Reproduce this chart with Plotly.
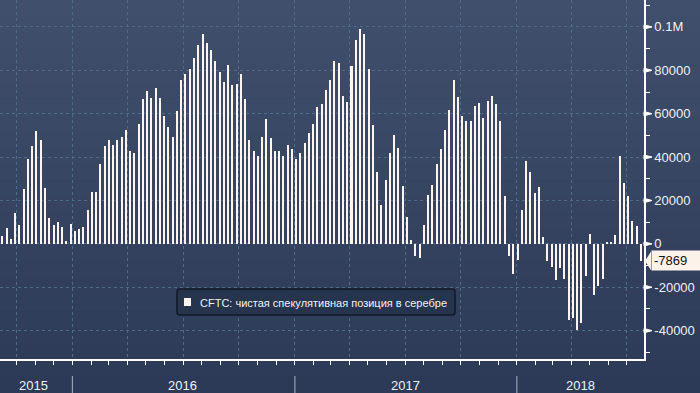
import pandas as pd
import plotly.graph_objects as go

# ---- data ----
last_date = "2018-07-24"
n_weeks = 151
values = [
    3700, 7400, 2300, 14400, 8800, 25500, 39300, 44900, 51800, 48100,
    25900, 12000, 8800, 10200, 7900, 1400, 9300, 6000, 6900, 7900,
    15700, 24100, 24100, 36600, 44900, 47700, 45400, 47700, 49100, 52300,
    43000, 42100, 55100, 66700, 70400, 67100, 71800, 67100, 58800, 53700,
    49100, 61100, 75400, 78200, 80500, 85600, 91700, 96700, 92600, 89300,
    84300, 79200, 74500, 82400, 73100, 73600, 78200, 66700, 47700, 43000,
    40700, 49100, 57400, 48600, 43000, 43000, 40700, 45800, 43500, 39300,
    42100, 46300, 50900, 55100, 63000, 64300, 70800, 75400, 84300, 83300,
    68000, 65300, 81900, 94000, 99100, 96700, 80500, 54600, 33300, 18100,
    29600, 42100, 50000, 44400, 26800, 12500, 1900, -5600, -6500, 8800,
    22700, 27300, 36600, 43500, 52300, 61600, 75400, 67600, 58800, 56500,
    56500, 63400, 64800, 57900, 65700, 68000, 64300, 56500, 22200, -5600,
    -13900, -7400, 15700, 38000, 32900, 23600, 26400, 3200, -7900, -10600,
    -16700, -11100, -16200, -35200, -34300, -39800, -36600, -14800, 4600, -23600,
    -19400, -16200, 500, 900, 4200, 40300, 28200, 22200, 10600, 8300,
    -7869,
]
dates = pd.date_range(end=last_date, periods=n_weeks, freq="7D")
series_name = "CFTC: чистая спекулятивная позиция в серебре"
last_label = "-7869"
y_tickvals = [-40000, -20000, 0, 20000, 40000, 60000, 80000, 100000]
y_ticktext = ["-40000", "-20000", "0", "20000", "40000", "60000", "80000", "0.1M"]
years = ["2015", "2016", "2017", "2018"]
year_label_pos = [0.052, 0.284, 0.630, 0.901]
year_bounds = ["2016-01-01", "2017-01-01", "2018-01-01"]

# ---- geometry ----
W, H = 700, 393
L, R, T, B = 0, 56, 0, 34
PW, PH = W - L - R, H - T - B
YMIN, YMAX = -53060, 112400

BAR = "#fff4ee"
FONT = "Liberation Sans"

def py(px_y):
    """figure pixel y -> paper y"""
    return (H - B - px_y) / PH

def pxx(px_x):
    return (px_x - L) / PW

fig = go.Figure()
fig.add_trace(go.Bar(
    x=dates, y=values, marker=dict(color=BAR, line=dict(width=0)),
    width=3.3 * 86400000, name=series_name, showlegend=False,
))

shapes = []
# background gradient
top_c = (64, 79, 107)
bot_c = (44, 58, 87)
nb = 24
for i in range(nb):
    t = i / (nb - 1)
    c = tuple(round(top_c[k] + (bot_c[k] - top_c[k]) * t) for k in range(3))
    y0 = i * H / nb
    y1 = (i + 1) * H / nb
    shapes.append(dict(type="rect", xref="paper", yref="paper",
                       x0=pxx(-2), x1=pxx(W + 2), y0=py(y1 + 0.5), y1=py(y0),
                       fillcolor="rgb(%d,%d,%d)" % c, line=dict(width=0), layer="below"))

# y major tick arrows
for v in y_tickvals:
    shapes.append(dict(type="path", xref="paper", yref="y",
                       path=f"M 1.0,{v+1000} L {1+8/PW},{v} L 1.0,{v-1000} Z",
                       fillcolor="white", line=dict(color="white", width=1)))

# year separators
for d in year_bounds:
    shapes.append(dict(type="line", xref="x", yref="paper", x0=d, x1=d,
                       y0=py(376), y1=py(H), line=dict(color="#a9b3c2", width=1)))

# legend box
lx0, lx1, ly0, ly1, r = 177, 455, 289, 315, 3
def P(x, y):
    return f"{pxx(x)},{py(y)}"
path = (f"M {P(lx0+r, ly0)} L {P(lx1-r, ly0)} Q {P(lx1, ly0)} {P(lx1, ly0+r)} "
        f"L {P(lx1, ly1-r)} Q {P(lx1, ly1)} {P(lx1-r, ly1)} L {P(lx0+r, ly1)} "
        f"Q {P(lx0, ly1)} {P(lx0, ly1-r)} L {P(lx0, ly0+r)} Q {P(lx0, ly0)} {P(lx0+r, ly0)} Z")
shapes.append(dict(type="path", xref="paper", yref="paper", path=path,
                   fillcolor="#27344d", line=dict(color="#121825", width=1.5)))
shapes.append(dict(type="rect", xref="paper", yref="paper",
                   x0=pxx(184), x1=pxx(191), y0=py(306), y1=py(298),
                   fillcolor=BAR, line=dict(width=0)))

# last value pointer
LBL = "#fdf2ea"
lv = values[-1]
hh = 4300
shapes.append(dict(type="path", xref="paper", yref="y",
                   path=f"M {1+1/PW},{lv} L {1+7/PW},{lv+hh} L {1+7/PW},{lv-hh} Z",
                   fillcolor=LBL, line=dict(width=0)))

annotations = []
for ytxt, xp in zip(years, year_label_pos):
    annotations.append(dict(xref="paper", yref="paper", x=xp, y=py(385),
                            text=ytxt, showarrow=False, xanchor="center", yanchor="middle",
                            font=dict(family=FONT, size=13, color="#eef2f7")))
annotations.append(dict(xref="paper", yref="paper", x=pxx(198), y=py(302.5),
                        text=series_name, showarrow=False, xanchor="left", yanchor="middle",
                        font=dict(family=FONT, size=11, color="#f2f2f2")))
annotations.append(dict(xref="paper", yref="y", x=1, y=lv, xshift=7, text=last_label,
                        showarrow=False, xanchor="left", yanchor="middle",
                        bgcolor=LBL, borderpad=2, width=48, height=15, align="left",
                        font=dict(family=FONT, size=13, color="#111111")))

fig.update_layout(
    width=W, height=H, margin=dict(l=L, r=R, t=T, b=B),
    paper_bgcolor="rgb(44,58,87)", plot_bgcolor="rgba(0,0,0,0)",
    bargap=0, showlegend=False, shapes=shapes, annotations=annotations,
    font=dict(family=FONT, color="#eef2f7"),
)
fig.update_xaxes(
    type="date", range=["2015-09-04", "2018-07-29"],
    showgrid=True, gridcolor="#4d6c8c", griddash="3px,3px", gridwidth=1,
    dtick="M3", tick0="2015-01-01", ticks="outside", ticklen=4, tickcolor="white",
    showticklabels=False, showline=True, linecolor="white", linewidth=1.5,
    minor=dict(dtick="M1", tick0="2015-01-01", ticks="outside", ticklen=4,
               tickcolor="white", showgrid=False),
    zeroline=False, fixedrange=True,
)
fig.update_yaxes(
    side="right", range=[YMIN, YMAX], tickvals=y_tickvals, ticktext=y_ticktext,
    showgrid=True, gridcolor="#4d6c8c", griddash="3px,3px", gridwidth=1,
    ticks="outside", ticklen=4, tickcolor="white", ticklabelstandoff=2,
    tickfont=dict(family=FONT, size=13, color="#eef2f7"),
    showline=True, linecolor="white", linewidth=1.5, zeroline=False,
    minor=dict(dtick=10000, tick0=0, ticks="outside", ticklen=4, tickcolor="white",
               showgrid=False),
)

fig.write_html("out.html", config={"displayModeBar": False},
               post_script="document.body.style.margin='0';document.body.style.overflow='hidden';")
